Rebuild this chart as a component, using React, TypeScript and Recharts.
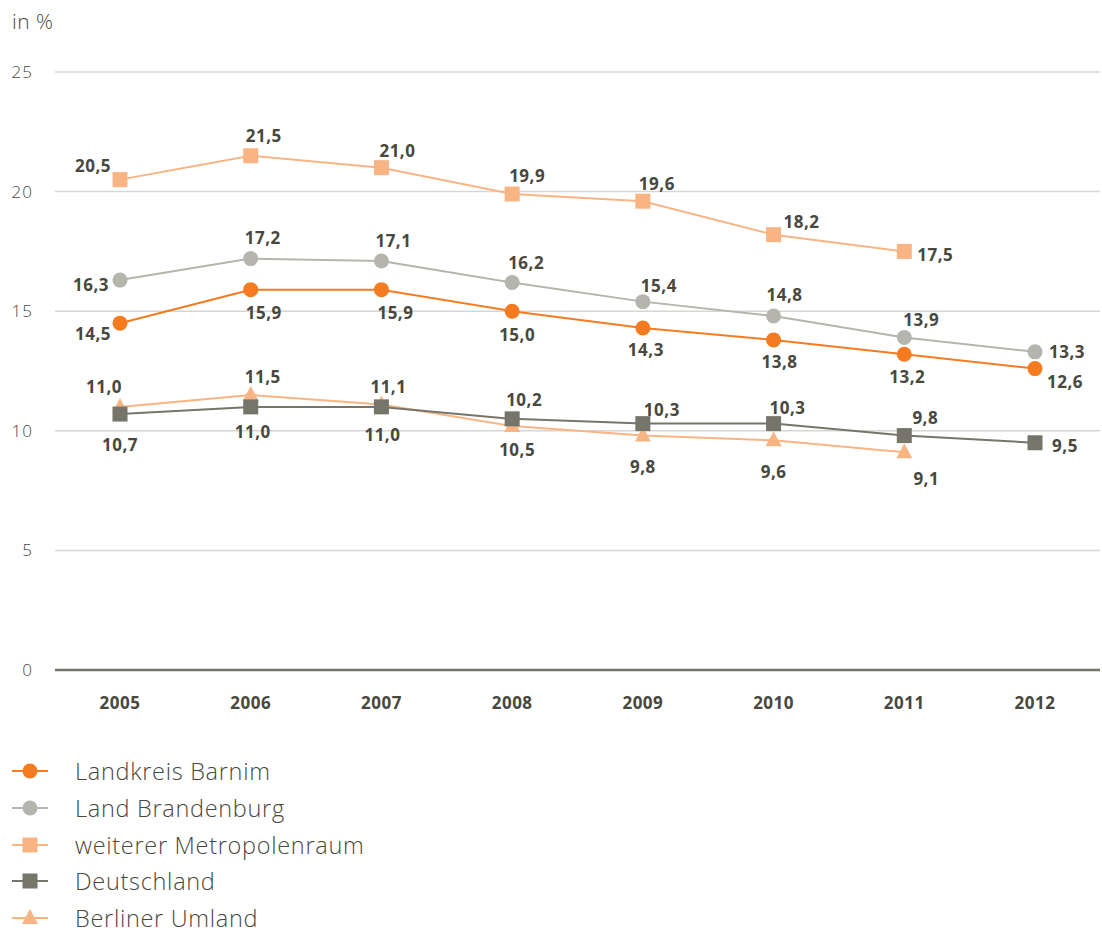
import React from "react";
import { LineChart, Line, XAxis, YAxis, CartesianGrid } from "recharts";

const years = ["2005", "2006", "2007", "2008", "2009", "2010", "2011", "2012"];
const barnim = [14.5, 15.9, 15.9, 15.0, 14.3, 13.8, 13.2, 12.6];
const brandenburg = [16.3, 17.2, 17.1, 16.2, 15.4, 14.8, 13.9, 13.3];
const metropolenraum = [20.5, 21.5, 21.0, 19.9, 19.6, 18.2, 17.5, null];
const deutschland = [10.7, 11.0, 11.0, 10.5, 10.3, 10.3, 9.8, 9.5];
const umland = [11.0, 11.5, 11.1, 10.2, 9.8, 9.6, 9.1, null];
const yTicks = [0, 5, 10, 15, 20, 25];

// label offsets (dx, dy) per point
const barnimOff = [[-27, 10], [13, 23], [14, 23], [5, 23], [3, 22], [6, 22], [3, 22], [30, 13]];
const brandenburgOff = [[-29, 4], [12, -21], [12, -20], [14, -20], [16, -16], [11, -21], [17, -18], [32, 0]];
const metroOff = [[-27, -14], [13, -20], [16, -17], [15, -18], [14, -18], [28, -13], [31, 3]];
const deutschOff = [[0, 30], [2, 25], [1, 28], [5, 31], [19, -14], [14, -16], [21, -18], [30, 3]];
const umlandOff = [[-16, -20], [12, -18], [7, -18], [12, -27], [0, 31], [0, 31], [22, 26]];

const data = years.map((y, i) => ({
  year: y,
  barnim: barnim[i],
  brandenburg: brandenburg[i],
  metro: metropolenraum[i],
  deutsch: deutschland[i],
  umland: umland[i],
}));

const TEXT = "#48483e";
const FONT = "'Open Sans', sans-serif";

const C_BARNIM = "#f47b20";
const C_BRAND = "#b5b5ae";
const C_METRO = "#f9b483";
const C_DEUTSCH = "#75756a";
const C_UMLAND = "#f9b483";

function makeLabel(off: number[][]) {
  return (p: any) => {
    if (p.value == null) return null;
    const o = off[p.index] || [0, 0];
    return (
      <text
        key={"l" + p.index}
        x={p.x + o[0]}
        y={p.y + o[1]}
        textAnchor="middle"
        dominantBaseline="central"
        fontFamily={FONT}
        fontWeight={700}
        fontSize={17}
        letterSpacing={0.5}
        fill={TEXT}
      >
        {String(p.value.toFixed(1)).replace(".", ",")}
      </text>
    );
  };
}

function circleDot(color: string) {
  return (p: any) =>
    p.value == null || p.cy == null ? <g key={"d" + p.index} /> : (
      <circle key={"d" + p.index} cx={p.cx} cy={p.cy} r={7.5} fill={color} />
    );
}

function squareDot(color: string) {
  return (p: any) =>
    p.value == null || p.cy == null ? <g key={"d" + p.index} /> : (
      <rect key={"d" + p.index} x={p.cx - 7.5} y={p.cy - 7.5} width={15} height={15} fill={color} />
    );
}

function triangleDot(color: string) {
  return (p: any) =>
    p.value == null || p.cy == null ? <g key={"d" + p.index} /> : (
      <polygon
        key={"d" + p.index}
        points={`${p.cx},${p.cy - 9} ${p.cx + 8},${p.cy + 6} ${p.cx - 8},${p.cy + 6}`}
        fill={color}
      />
    );
}

const legendItems = [
  { name: "Landkreis Barnim", color: C_BARNIM, shape: "circle" },
  { name: "Land Brandenburg", color: C_BRAND, shape: "circle" },
  { name: "weiterer Metropolenraum", color: C_METRO, shape: "square" },
  { name: "Deutschland", color: C_DEUTSCH, shape: "square" },
  { name: "Berliner Umland", color: C_UMLAND, shape: "triangle" },
];

export default function App(): JSX.Element {
  return (
    <div style={{ position: "absolute", left: 0, top: 0, width: 1102, height: 935, background: "#fff", overflow: "hidden" }}>
      <div
        style={{
          position: "absolute",
          left: 12,
          top: 8,
          fontFamily: FONT,
          fontSize: 21,
          fontWeight: 300,
          letterSpacing: 0.5,
          lineHeight: "26px",
          color: TEXT,
        }}
      >
        in %
      </div>
      <LineChart
        width={1102}
        height={730}
        data={data}
        margin={{ top: 72, right: 2, left: 0, bottom: 0 }}
      >
        <CartesianGrid vertical={false} stroke="#d6d6d2" strokeWidth={1.5} />
        <XAxis
          dataKey="year"
          height={60}
          padding={{ left: 65, right: 65 }}
          tickLine={false}
          axisLine={{ stroke: C_DEUTSCH, strokeWidth: 2.5 }}
          tickMargin={21}
          tick={{ fontFamily: FONT, fontSize: 17, fontWeight: 700, fill: TEXT, letterSpacing: 0.5 }}
        />
        <YAxis
          width={55}
          domain={[0, 25]}
          ticks={yTicks}
          tickLine={false}
          axisLine={false}
          tickMargin={16}
          tick={{ fontFamily: FONT, fontSize: 17, fontWeight: 300, fill: TEXT, letterSpacing: 1 }}
        />
        <Line
          dataKey="umland"
          stroke={C_UMLAND}
          strokeWidth={2}
          dot={triangleDot(C_UMLAND)}
          activeDot={false}
          label={makeLabel(umlandOff)}
          isAnimationActive={false}
        />
        <Line
          dataKey="deutsch"
          stroke={C_DEUTSCH}
          strokeWidth={2}
          dot={squareDot(C_DEUTSCH)}
          activeDot={false}
          label={makeLabel(deutschOff)}
          isAnimationActive={false}
        />
        <Line
          dataKey="metro"
          stroke={C_METRO}
          strokeWidth={2}
          dot={squareDot(C_METRO)}
          activeDot={false}
          label={makeLabel(metroOff)}
          isAnimationActive={false}
        />
        <Line
          dataKey="brandenburg"
          stroke={C_BRAND}
          strokeWidth={2}
          dot={circleDot(C_BRAND)}
          activeDot={false}
          label={makeLabel(brandenburgOff)}
          isAnimationActive={false}
        />
        <Line
          dataKey="barnim"
          stroke={C_BARNIM}
          strokeWidth={2}
          dot={circleDot(C_BARNIM)}
          activeDot={false}
          label={makeLabel(barnimOff)}
          isAnimationActive={false}
        />
      </LineChart>
      {legendItems.map((it, i) => (
        <div
          key={it.name}
          style={{
            position: "absolute",
            left: 0,
            top: 771 + i * 36.8 - 12,
            height: 24,
            display: "flex",
            alignItems: "center",
          }}
        >
          <svg width={60} height={24} style={{ marginLeft: 8 }}>
            <line x1={4} y1={12} x2={40} y2={12} stroke={it.color} strokeWidth={2} />
            {it.shape === "circle" && <circle cx={22} cy={12} r={7.5} fill={it.color} />}
            {it.shape === "square" && <rect x={14.5} y={4.5} width={15} height={15} fill={it.color} />}
            {it.shape === "triangle" && <polygon points="22,3 30,18 14,18" fill={it.color} />}
          </svg>
          <span
            style={{
              marginLeft: 7,
              fontFamily: FONT,
              fontSize: 23.5,
              fontWeight: 300,
              letterSpacing: 0.7,
              lineHeight: "24px",
              color: TEXT,
            }}
          >
            {it.name}
          </span>
        </div>
      ))}
    </div>
  );
}
